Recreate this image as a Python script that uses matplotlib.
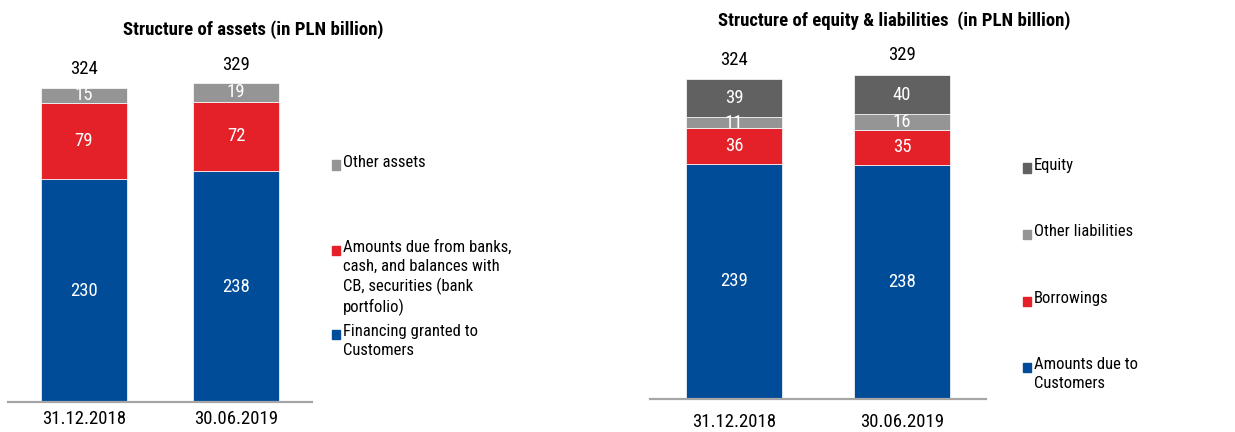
import matplotlib
matplotlib.use('Agg')
import matplotlib.pyplot as plt
from matplotlib.patches import Rectangle
from matplotlib import font_manager

# narrow sans if one is around, else condensed DejaVu
names = {f.name for f in font_manager.fontManager.ttflist}
fams = [n for n in ['Liberation Sans Narrow', 'Roboto Condensed', 'Open Sans Condensed'] if n in names]
plt.rcParams['font.family'] = fams + ['DejaVu Sans']
plt.rcParams['font.stretch'] = 'condensed'

dates = ['31.12.2018', '30.06.2019']

# assets (PLN bn)
financing = [230, 238]
due_from_banks = [79, 72]
other_assets = [15, 19]
assets_total = [324, 329]

# equity & liabilities (PLN bn)
due_to_customers = [239, 238]
borrowings = [36, 35]
other_liabilities = [11, 16]
equity = [39, 40]
liab_total = [324, 329]

BLUE = '#004c99'
RED = '#e42128'
GREY = '#959595'
DARK = '#616161'

W, H = 1235, 432
fig = plt.figure(figsize=(W / 100, H / 100), dpi=100)


def px_axes(x0, x1, base, scale, pad):
    ax = fig.add_axes([x0 / W, (H - base) / H, (x1 - x0) / W, base / H])
    ax.set_ylim(0, base / scale)
    ax.set_xlim(-0.5, 1.5)
    for s in ['top', 'left', 'right']:
        ax.spines[s].set_visible(False)
    ax.spines['bottom'].set_color('#a6a6a6')
    ax.spines['bottom'].set_linewidth(1.6)
    ax.set_yticks([])
    ax.set_xticks([0, 1])
    ax.set_xticklabels(dates, fontsize=13.5)
    ax.tick_params(axis='x', length=0, pad=pad)
    return ax


def stack(ax, series, colors, totals, width, off):
    x = [0, 1]
    bottom = [0, 0]
    for vals, col in zip(series, colors):
        ax.bar(x, vals, width, bottom=bottom, color=col, edgecolor='white', linewidth=0.5)
        for i in x:
            ax.text(i, bottom[i] + vals[i] / 2, str(vals[i]), ha='center', va='center',
                    color='white', fontsize=13.5)
        bottom = [b + v for b, v in zip(bottom, vals)]
    for i in x:
        ax.text(i, totals[i] + off, str(totals[i]), ha='center', va='bottom', fontsize=13.5)


def legend_item(x, y, color, text):
    fig.patches.append(Rectangle((x / W, (H - y - 4.5) / H), 8 / W, 9 / H,
                                 transform=fig.transFigure, color=color))
    fig.text((x + 11) / W, (H - y + 10) / H, text, fontsize=12, va='top',
             linespacing=1.3, transform=fig.transFigure)


# left: assets
ax1 = px_axes(8, 312, 402, 0.969, 6)
stack(ax1, [financing, due_from_banks, other_assets], [BLUE, RED, GREY],
      assets_total, 0.566, 10)
fig.text(253 / W, (H - 30) / H, 'Structure of assets (in PLN billion)', ha='center',
         va='center', fontsize=13.5, fontweight='bold')
legend_item(332, 165, GREY, 'Other assets')
legend_item(332, 250, RED, 'Amounts due from banks,\ncash, and balances with\nCB, securities (bank\nportfolio)')
legend_item(332, 334, BLUE, 'Financing granted to\nCustomers')

# right: equity & liabilities
ax2 = px_axes(650, 986, 399, 0.985, 10)
stack(ax2, [due_to_customers, borrowings, other_liabilities, equity],
      [BLUE, RED, GREY, DARK], liab_total, 0.571, 11)
fig.text(894 / W, (H - 21) / H, 'Structure of equity & liabilities  (in PLN billion)',
         ha='center', va='center', fontsize=13.5, fontweight='bold')
legend_item(1023, 168, DARK, 'Equity')
legend_item(1023, 234, GREY, 'Other liabilities')
legend_item(1023, 301, RED, 'Borrowings')
legend_item(1023, 367, BLUE, 'Amounts due to\nCustomers')

plt.savefig('out.png', dpi=100)
